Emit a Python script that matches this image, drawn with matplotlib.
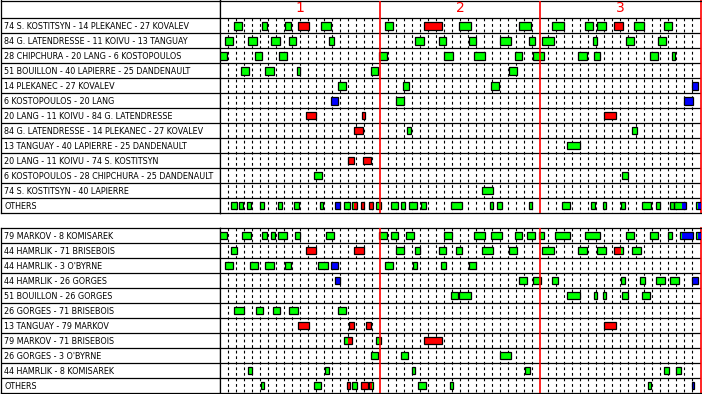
import matplotlib
matplotlib.use('Agg')
import matplotlib.pyplot as plt
from matplotlib.patches import Rectangle

# ==========================================
# figure / layout settings
# ==========================================
W, H = 702, 394
DPI = 100
LABEL_W = 220          # px, width of the label column
HEADER = 1.2           # header height in rows (top panel only)

COLORS = {'g': '#00ff00', 'r': '#ff0000', 'b': '#0000ff'}
PERIOD_RED = '#ff0000'

periods = ['1', '2', '3']
PERIOD_LEN = 1200      # seconds
GAME_LEN = 3600

# ==========================================
# data: line combinations and their shifts (seconds of game time)
# g = even strength, r = power play, b = short handed
# ==========================================
top_labels = [
    '74 S. KOSTITSYN - 14 PLEKANEC - 27 KOVALEV',
    '84 G. LATENDRESSE - 11 KOIVU - 13 TANGUAY',
    '28 CHIPCHURA - 20 LANG - 6 KOSTOPOULOS',
    '51 BOUILLON - 40 LAPIERRE - 25 DANDENAULT',
    '14 PLEKANEC - 27 KOVALEV',
    '6 KOSTOPOULOS - 20 LANG',
    '20 LANG - 11 KOIVU - 84 G. LATENDRESSE',
    '84 G. LATENDRESSE - 14 PLEKANEC - 27 KOVALEV',
    '13 TANGUAY - 40 LAPIERRE - 25 DANDENAULT',
    '20 LANG - 11 KOIVU - 74 S. KOSTITSYN',
    '6 KOSTOPOULOS - 28 CHIPCHURA - 25 DANDENAULT',
    '74 S. KOSTITSYN - 40 LAPIERRE',
    'OTHERS',
]

top_shifts = [
    [(105, 165, 'g'), (315, 350, 'g'), (488, 533, 'g'), (585, 665, 'r'), (758, 830, 'g'),
     (1238, 1295, 'g'), (1530, 1663, 'r'), (1793, 1883, 'g'), (2243, 2333, 'g'), (2490, 2580, 'g'),
     (2738, 2798, 'g'), (2828, 2895, 'g'), (2955, 3023, 'r'), (3105, 3173, 'g'), (3330, 3390, 'g')],
    [(40, 100, 'g'), (210, 275, 'g'), (383, 448, 'g'), (518, 568, 'g'), (818, 853, 'g'),
     (1463, 1528, 'g'), (1643, 1652, 'r'), (1652, 1693, 'g'), (1868, 1920, 'g'), (2100, 2180, 'g'),
     (2318, 2360, 'g'), (2415, 2503, 'g'), (2798, 2825, 'g'), (3045, 3103, 'g'), (3285, 3343, 'g')],
    [(0, 50, 'g'), (263, 313, 'g'), (443, 500, 'g'), (1193, 1250, 'g'), (1680, 1745, 'g'),
     (1905, 1985, 'g'), (2213, 2265, 'g'), (2348, 2428, 'g'), (2685, 2750, 'g'), (2805, 2848, 'g'),
     (3218, 3283, 'g'), (3383, 3410, 'g')],
    [(158, 218, 'g'), (338, 403, 'g'), (578, 600, 'g'), (1133, 1183, 'g'), (2168, 2225, 'g')],
    [(885, 943, 'g'), (1373, 1415, 'g'), (2033, 2090, 'g'), (3533, 3585, 'b')],
    [(833, 883, 'b'), (1320, 1378, 'g'), (3473, 3543, 'b')],
    [(645, 720, 'r'), (1065, 1088, 'r'), (2880, 2968, 'r')],
    [(1005, 1073, 'r'), (1403, 1433, 'g'), (3090, 3125, 'g')],
    [(2603, 2698, 'g')],
    [(960, 1005, 'r'), (1073, 1133, 'r')],
    [(705, 763, 'g'), (3015, 3058, 'g')],
    [(1965, 2045, 'g')],
    [(83, 125, 'g'), (143, 173, 'g'), (203, 233, 'g'), (300, 328, 'g'), (435, 465, 'g'),
     (555, 593, 'g'), (750, 770, 'g'), (863, 900, 'b'), (930, 975, 'g'), (990, 1001, 'g'),
     (1001, 1025, 'r'), (1058, 1080, 'r'), (1118, 1125, 'g'), (1125, 1148, 'r'), (1170, 1205, 'g'),
     (1283, 1333, 'g'), (1358, 1385, 'g'), (1418, 1475, 'g'), (1508, 1543, 'g'), (1733, 1815, 'g'),
     (2025, 2045, 'g'), (2078, 2113, 'g'), (2318, 2340, 'g'), (2565, 2623, 'g'), (2783, 2810, 'g'),
     (2873, 2893, 'g'), (3008, 3035, 'g'), (3158, 3230, 'g'), (3270, 3298, 'g'), (3375, 3400, 'g'),
     (3405, 3465, 'g'), (3465, 3488, 'b'), (3570, 3578, 'g'), (3578, 3600, 'b')],
]

bottom_labels = [
    '79 MARKOV - 8 KOMISAREK',
    '44 HAMRLIK - 71 BRISEBOIS',
    "44 HAMRLIK - 3 O'BYRNE",
    '44 HAMRLIK - 26 GORGES',
    '51 BOUILLON - 26 GORGES',
    '26 GORGES - 71 BRISEBOIS',
    '13 TANGUAY - 79 MARKOV',
    '79 MARKOV - 71 BRISEBOIS',
    "26 GORGES - 3 O'BYRNE",
    '44 HAMRLIK - 8 KOMISAREK',
    'OTHERS',
]

bottom_shifts = [
    [(0, 50, 'g'), (165, 233, 'g'), (315, 350, 'g'), (383, 410, 'g'), (435, 500, 'g'),
     (563, 600, 'g'), (795, 853, 'g'), (1193, 1250, 'g'), (1283, 1333, 'g'), (1395, 1453, 'g'),
     (1680, 1738, 'g'), (1905, 1985, 'g'), (2033, 2113, 'g'), (2213, 2263, 'g'), (2303, 2360, 'g'),
     (2393, 2428, 'g'), (2513, 2623, 'g'), (2738, 2848, 'g'), (3045, 3103, 'g'), (3218, 3283, 'g'),
     (3353, 3388, 'g'), (3443, 3465, 'g'), (3465, 3545, 'b'), (3570, 3578, 'g'), (3578, 3600, 'b')],
    [(83, 125, 'g'), (645, 720, 'r'), (1005, 1080, 'r'), (1320, 1378, 'g'), (1463, 1500, 'g'),
     (1643, 1652, 'r'), (1652, 1693, 'g'), (1770, 1815, 'g'), (1965, 2045, 'g'), (2168, 2225, 'g'),
     (2415, 2503, 'g'), (2685, 2750, 'g'), (2828, 2893, 'g'), (2955, 3008, 'r'), (3008, 3020, 'g'),
     (3090, 3155, 'g')],
    [(40, 100, 'g'), (225, 283, 'g'), (338, 403, 'g'), (488, 533, 'g'), (735, 810, 'g'),
     (833, 883, 'b'), (1238, 1295, 'g'), (1448, 1475, 'g'), (1658, 1693, 'g'), (1868, 1920, 'g')],
    [(863, 900, 'b'), (2243, 2303, 'g'), (2348, 2405, 'g'), (2490, 2533, 'g'), (3008, 3035, 'g'),
     (3143, 3185, 'g'), (3270, 3335, 'g'), (3375, 3440, 'g'), (3533, 3585, 'b')],
    [(1733, 1785, 'g'), (1793, 1883, 'g'), (2603, 2698, 'g'), (2805, 2825, 'g'), (2873, 2893, 'g'),
     (3015, 3058, 'g'), (3165, 3223, 'g')],
    [(105, 180, 'g'), (270, 320, 'g'), (398, 448, 'g'), (518, 585, 'g'), (885, 943, 'g')],
    [(585, 665, 'r'), (968, 1005, 'r'), (1095, 1133, 'r'), (2880, 2968, 'r')],
    [(930, 960, 'g'), (960, 988, 'r'), (1170, 1205, 'g'), (1530, 1663, 'r')],
    [(1133, 1183, 'g'), (1358, 1408, 'g'), (2100, 2180, 'g')],
    [(210, 238, 'g'), (788, 815, 'g'), (1440, 1460, 'g'), (2288, 2323, 'g'), (3323, 3365, 'g'),
     (3420, 3455, 'g')],
    [(308, 328, 'g'), (705, 755, 'g'), (953, 973, 'r'), (990, 1000, 'r'), (1000, 1025, 'g'),
     (1058, 1110, 'r'), (1118, 1140, 'r'), (1140, 1148, 'g'), (1485, 1543, 'g'), (1725, 1745, 'g'),
     (3210, 3230, 'g'), (3533, 3553, 'b')],
]

plt.rcParams['font.family'] = ['DejaVu Sans']


def px_rect(left, top, right, bottom):
    """figure-fraction rect from pixel box (y measured from the top)"""
    return [left / W, 1 - bottom / H, (right - left) / W, (bottom - top) / H]


def draw_bars(ax, row, shifts):
    groups = []
    for s, e, c in sorted(shifts):
        ax.add_patch(Rectangle((s, row + 0.25), e - s, 0.5, facecolor=COLORS[c],
                               edgecolor='none', zorder=3))
        if groups and abs(groups[-1][1] - s) < 1e-6:
            groups[-1][1] = e
        else:
            groups.append([s, e])
    for s, e in groups:
        ax.add_patch(Rectangle((s, row + 0.25), e - s, 0.5, fill=False,
                               edgecolor='black', linewidth=0.9, zorder=4))


def draw_panel(fig, top_px, bottom_px, labels, shifts, header=0.0):
    n = len(labels)
    lab_ax = fig.add_axes(px_rect(0.5, top_px, LABEL_W, bottom_px))
    ax = fig.add_axes(px_rect(LABEL_W, top_px, 700.5, bottom_px))

    for a in (lab_ax, ax):
        a.set_ylim(n, -header)
        a.set_xticks([])
        a.set_yticks([])
        for sp in a.spines.values():
            sp.set_linewidth(0.9)
            sp.set_color('black')
        for i in range(n):
            if i == 0 and header == 0:
                continue
            a.axhline(i, color='black', linewidth=0.9, zorder=2)

    lab_ax.set_xlim(0, LABEL_W)
    for i, lab in enumerate(labels):
        lab_ax.text(4, i + 0.55, lab, fontsize=5.8, va='center', ha='left')

    ax.set_xlim(0, GAME_LEN)
    ax.spines['right'].set_color(PERIOD_RED)
    ax.spines['right'].set_linewidth(1.2)

    minutes = [m * 60 for m in range(1, GAME_LEN // 60) if (m * 60) % PERIOD_LEN]
    ax.vlines(minutes, 0, n, colors='black', linewidth=0.8,
              linestyles=(0, (2.5, 2.5)), zorder=1)
    ax.vlines([PERIOD_LEN * k for k in range(1, len(periods))], -header, n,
              colors=PERIOD_RED, linewidth=1.2, zorder=5)

    for i, row in enumerate(shifts):
        draw_bars(ax, i, row)

    if header:
        for k, p in enumerate(periods):
            ax.text(PERIOD_LEN * (k + 0.5), -header + 0.47, p, color=PERIOD_RED,
                    fontsize=10, ha='center', va='center')


fig = plt.figure(figsize=(W / DPI, H / DPI), dpi=DPI)
fig.patch.set_facecolor('white')

draw_panel(fig, 0.5, 213, top_labels, top_shifts, header=HEADER)
draw_panel(fig, 228, 393, bottom_labels, bottom_shifts)

fig.savefig('out.png', dpi=DPI, facecolor='white')
